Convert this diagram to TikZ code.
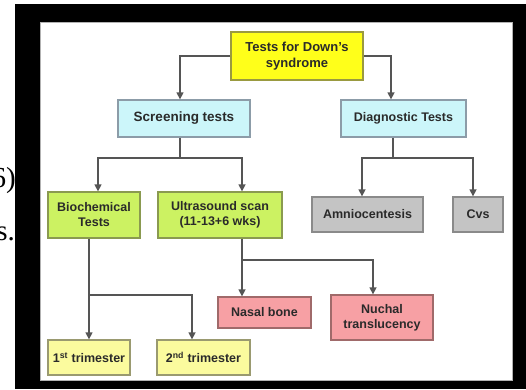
\documentclass[tikz,border=0pt]{standalone}
\usepackage{fontspec}
\setmainfont{Liberation Sans}
\newfontfamily\sidefont{Liberation Serif}
\usetikzlibrary{arrows.meta}
\definecolor{txt}{HTML}{2A2A2A}
\definecolor{yelf}{HTML}{FFFF1A}
\definecolor{yeld}{HTML}{9A9A40}
\definecolor{cyf}{HTML}{CCF6FA}
\definecolor{cyd}{HTML}{8C9CA8}
\definecolor{grf}{HTML}{CCF262}
\definecolor{grd}{HTML}{8A9A50}
\definecolor{gyf}{HTML}{C4C4C4}
\definecolor{gyd}{HTML}{8A8A8A}
\definecolor{pkf}{HTML}{F7A0A4}
\definecolor{pkd}{HTML}{A06A6A}
\definecolor{lyf}{HTML}{FBFB9E}
\definecolor{lyd}{HTML}{9A9A70}
\definecolor{conn}{HTML}{555555}
\begin{document}
\begin{tikzpicture}[x=1pt,y=-1pt,
  bx/.style={line width=1.3pt, inner sep=1pt, align=center, text=txt,
    font=\bfseries\fontsize{12.5}{15}\selectfont},
  arr/.style={draw=conn, line width=1.4pt, -{Triangle[width=7pt,length=7pt]}},
  ln/.style={draw=conn, line width=1.4pt}
]
\useasboundingbox (0,0) rectangle (526,389);
\fill[white] (0,0) rectangle (526,389);

\node[anchor=base east, inner sep=0pt, font=\sidefont\fontsize{29}{32}\selectfont] (s1) at (16,187) {6)};
\node[anchor=base east, inner sep=0pt, font=\sidefont\fontsize{29}{32}\selectfont] (s2) at (15,240) {s.};

\fill[black] (15,4) rectangle (526,389);
\fill[white] (40,22) rectangle (512,380);
\draw[gray!60, line width=0.8pt] (40,22) rectangle (512,380);

\node[bx, fill=yelf, draw=yeld, minimum width=132pt, minimum height=48pt,
  font=\bfseries\fontsize{13}{16}\selectfont] (top) at (297,56) {Tests for Down's\\syndrome};
\node[bx, fill=cyf, draw=cyd, minimum width=132pt, minimum height=37pt,
  font=\bfseries\fontsize{13.5}{16}\selectfont] (scr) at (184,118.5) {Screening tests};
\node[bx, fill=cyf, draw=cyd, minimum width=125pt, minimum height=37pt] (diag) at (403.5,118.5) {Diagnostic Tests};
\node[bx, fill=grf, draw=grd, minimum width=92pt, minimum height=46pt] (bio) at (94,215) {Biochemical\\Tests};
\node[bx, fill=grf, draw=grd, minimum width=124pt, minimum height=46pt] (us) at (220,215) {Ultrasound scan\\(11-13+6 wks)};
\node[bx, fill=gyf, draw=gyd, minimum width=111pt, minimum height=35pt] (amn) at (367.5,214.5) {Amniocentesis};
\node[bx, fill=gyf, draw=gyd, minimum width=50pt, minimum height=35pt] (cvs) at (478,214.5) {Cvs};
\node[bx, fill=pkf, draw=pkd, minimum width=93pt, minimum height=31pt] (nasal) at (264.5,312.5) {Nasal bone};
\node[bx, fill=pkf, draw=pkd, minimum width=102pt, minimum height=45pt] (nuch) at (382,317.5) {Nuchal\\translucency};
\node[bx, fill=lyf, draw=lyd, minimum width=82pt, minimum height=35pt] (t1) at (89,357.5) {1\textsuperscript{st} trimester};
\node[bx, fill=lyf, draw=lyd, minimum width=93pt, minimum height=35pt] (t2) at (203.5,357.5) {2\textsuperscript{nd} trimester};

% top level
\draw[arr] (top.west) -| ([xshift=-4pt]scr.north);
\draw[arr] (top.east) -| ([xshift=-12.5pt]diag.north);

% screening branch
\coordinate (j1) at (180,158);
\draw[ln] (scr.south -| j1) -- (j1);
\draw[arr] (j1) -| ([xshift=4pt]bio.north);
\draw[arr] (j1) -| ([xshift=22pt]us.north);

% diagnostic branch
\coordinate (j2) at (393,158);
\draw[ln] (diag.south -| j2) -- (j2);
\draw[arr] (j2) -| ([xshift=-5.5pt]amn.north);
\draw[arr] (j2) -| ([xshift=-5pt]cvs.north);

% biochemical branch
\coordinate (j3) at (89,295);
\draw[arr] (bio.south -| t1.north) -- (t1.north);
\draw[arr] (j3) -| ([xshift=-11.5pt]t2.north);

% ultrasound branch
\coordinate (j4) at (242,260);
\draw[arr] (us.south -| j4) -- (nasal.north -| j4);
\draw[arr] (j4) -| ([xshift=-9pt]nuch.north);
\end{tikzpicture}
\end{document}
